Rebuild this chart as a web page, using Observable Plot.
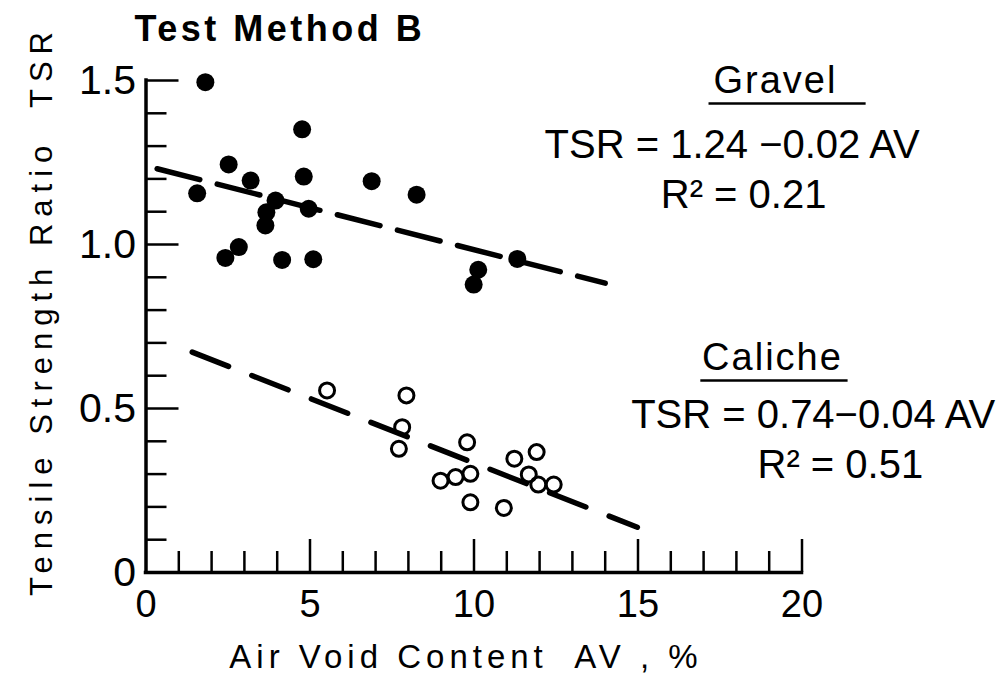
<!DOCTYPE html>
<html>
<head>
<meta charset="utf-8">
<script src="https://cdn.jsdelivr.net/npm/d3@7"></script>
<script src="https://cdn.jsdelivr.net/npm/@observablehq/plot@0.6"></script>
<style>
  html, body { margin: 0; padding: 0; background: white; }
  #chart { width: 1003px; height: 681px; }
</style>
</head>
<body>
<div id="chart"></div>
<script>
// ---- data ----
const gravelAV  = [1.81, 4.76, 2.52, 4.81, 3.19, 6.88, 8.25, 1.56, 3.95, 3.67, 3.64, 4.96, 2.83, 2.42, 4.15, 5.10, 10.13, 9.99, 11.32];
const gravelTSR = [1.495, 1.351, 1.244, 1.207, 1.195, 1.193, 1.152, 1.156, 1.134, 1.098, 1.058, 1.109, 0.992, 0.959, 0.953, 0.955, 0.923, 0.878, 0.956];

const calicheAV  = [5.52, 7.94, 7.81, 7.71, 9.79, 9.89, 9.44, 8.98, 9.89, 10.91, 11.23, 11.91, 11.67, 11.96, 12.43];
const calicheTSR = [0.555, 0.540, 0.443, 0.377, 0.397, 0.301, 0.291, 0.280, 0.214, 0.197, 0.347, 0.367, 0.299, 0.268, 0.268];

// fitted lines as drawn (end points)
const gravelFitAV  = [0.34, 14.0];
const gravelFitTSR = [1.231, 0.882];
const calicheFitAV  = [1.41, 14.98];
const calicheFitTSR = [0.672, 0.138];

// tick positions / labels
const xTickLabels = [0, 5, 10, 15, 20];
const xMinorTicks = [1, 2, 3, 4, 6, 7, 8, 9, 11, 12, 13, 14, 16, 17, 18, 19];
const xMajorTicks = [5, 10, 15, 20];
const yTickValues = [0, 0.5, 1.0, 1.5];
const yTickLabels = ["0", "0.5", "1.0", "1.5"];
const yMinorTicks = [0.1, 0.2, 0.3, 0.4, 0.6, 0.7, 0.8, 0.9, 1.1, 1.2, 1.3, 1.4];
const yMajorTicks = [0.5, 1.0, 1.5];

const titleText = "Test Method B";
const xLabel = "Air Void Content  AV , %";
const yLabel = "Tensile Strength Ratio  TSR";

const annotations = [
  {text: "Gravel", x: 19.19, y: 1.463, size: 38},
  {text: "TSR = 1.24 \u22120.02 AV", x: 17.87, y: 1.265, size: 40},
  {text: "R\u00B2 = 0.21", x: 18.22, y: 1.110, size: 40},
  {text: "Caliche", x: 19.10, y: 0.616, size: 38},
  {text: "TSR = 0.74\u22120.04 AV", x: 20.34, y: 0.442, size: 40},
  {text: "R\u00B2 = 0.51", x: 21.17, y: 0.287, size: 40}
];
const underlines = [
  {x1: 17.15, x2: 21.94, y: 1.430},
  {x1: 16.90, x2: 21.39, y: 0.585}
];

// ---- build tables ----
const gravel = gravelAV.map((av, i) => ({av, tsr: gravelTSR[i]}));
const caliche = calicheAV.map((av, i) => ({av, tsr: calicheTSR[i]}));
const gravelFit = gravelFitAV.map((av, i) => ({av, tsr: gravelFitTSR[i]}));
const calicheFit = calicheFitAV.map((av, i) => ({av, tsr: calicheFitTSR[i]}));

const W = 1003, H = 681;
const mL = 145.5, mR = 201.5, mT = 80, mB = 109;
const pxPerY = (H - mT - mB) / 1.5;
const pxPerX = (W - mL - mR) / 20;
const xMinorLen = 21 / pxPerY, xMajorLen = 33 / pxPerY;
const yMinorLen = 21 / pxPerX, yMajorLen = 33 / pxPerX;

const chart = Plot.plot({
  width: W,
  height: H,
  marginLeft: mL,
  marginRight: mR,
  marginTop: mT,
  marginBottom: mB,
  style: {fontFamily: "'Liberation Sans', Arial, sans-serif", background: "white", color: "black", overflow: "visible"},
  x: {domain: [0, 20]},
  y: {domain: [0, 1.5]},
  marks: [
    // axes lines
    Plot.ruleY([0], {stroke: "black", strokeWidth: 3.5, strokeLinecap: "square"}),
    Plot.ruleX([0], {stroke: "black", strokeWidth: 3.5, strokeLinecap: "square"}),
    // inward ticks
    Plot.ruleX(xMinorTicks, {x: d => d, y1: 0, y2: xMinorLen, stroke: "black", strokeWidth: 2.5}),
    Plot.ruleX(xMajorTicks, {x: d => d, y1: 0, y2: xMajorLen, stroke: "black", strokeWidth: 2.5}),
    Plot.ruleY(yMinorTicks, {y: d => d, x1: 0, x2: yMinorLen, stroke: "black", strokeWidth: 2.5}),
    Plot.ruleY(yMajorTicks, {y: d => d, x1: 0, x2: yMajorLen, stroke: "black", strokeWidth: 2.5}),
    // tick labels
    Plot.axisX({ticks: xTickLabels, tickSize: 0, tickPadding: 18, fontSize: 38, label: null, tickFormat: d => String(d)}),
    Plot.axisY({ticks: yTickValues, tickSize: 0, tickPadding: 10, fontSize: 41, label: null, tickFormat: (d, i) => yTickLabels[yTickValues.indexOf(d)]}),
    // fitted lines
    Plot.line(gravelFit, {x: "av", y: "tsr", stroke: "black", strokeWidth: 5.5, strokeDasharray: "44,18", strokeLinecap: "round"}),
    Plot.line(calicheFit, {x: "av", y: "tsr", stroke: "black", strokeWidth: 5.5, strokeDasharray: "39,25", strokeLinecap: "round"}),
    // points
    Plot.dot(gravel, {x: "av", y: "tsr", r: 9, fill: "black", stroke: "none"}),
    Plot.dot(caliche, {x: "av", y: "tsr", r: 7.5, fill: "none", stroke: "black", strokeWidth: 3}),
    // annotations
    Plot.text(annotations, {x: "x", y: "y", text: "text", fontSize: d => d.size, lineAnchor: "bottom", textAnchor: "middle", fill: "black"}),
    Plot.link(underlines, {x1: "x1", x2: "x2", y1: "y", y2: "y", stroke: "black", strokeWidth: 2.5}),
    // title & axis labels
    Plot.text([titleText], {frameAnchor: "top-left", dx: -11.5, dy: -40, textAnchor: "start", lineAnchor: "bottom", fontSize: 36, fontWeight: "bold"}),
    Plot.text([xLabel], {frameAnchor: "bottom", dx: -8, dy: 95, textAnchor: "middle", lineAnchor: "bottom", fontSize: 33}),
    Plot.text([yLabel], {frameAnchor: "left", dx: -103.5, dy: -16, rotate: -90, textAnchor: "middle", lineAnchor: "middle", fontSize: 31})
  ]
});

// letter spacing tweaks
d3.select(chart).selectAll("text").each(function () {
  const t = this.textContent;
  if (t === yLabel) this.style.letterSpacing = "7px";
  else if (t === xLabel) this.style.letterSpacing = "5px";
  else if (t === titleText) this.style.letterSpacing = "3.5px";
  else if (t === "Gravel" || t === "Caliche") this.style.letterSpacing = "2px";
});

document.getElementById("chart").appendChild(chart);
</script>
</body>
</html>
